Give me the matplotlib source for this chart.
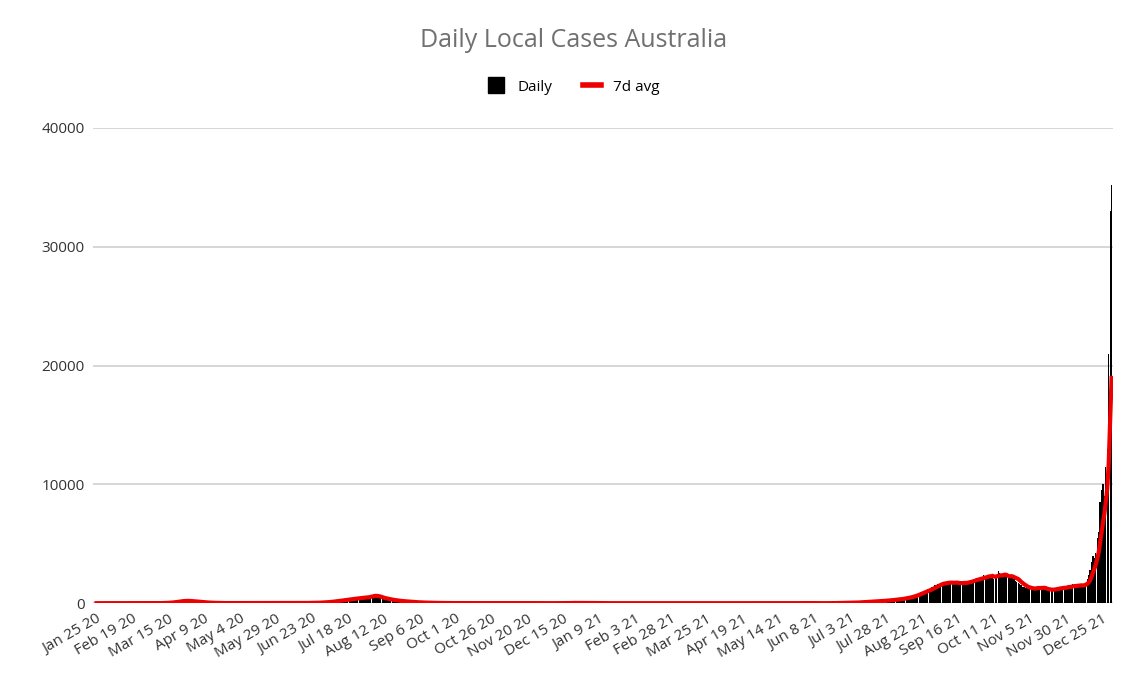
import matplotlib
matplotlib.use("Agg")
import matplotlib.pyplot as plt
import numpy as np
import pandas as pd
from matplotlib.lines import Line2D

start_date = "2020-01-25"
jan20 = [0, 0, 0, 0, 0, 0, 0]
feb20 = [0] * 29
mar20 = [0, 0, 1, 2, 3, 5, 5, 8, 10, 15, 20, 25, 30, 40, 50, 60, 80, 90, 110, 130, 150, 170, 190, 200, 210, 200, 190, 180, 170, 160, 150]
apr20 = [140, 130, 120, 100, 90, 80, 70, 60, 50, 45, 40, 35, 30, 25, 20, 18, 15, 15, 12, 10, 10, 10, 8, 8, 8, 10, 10, 8, 8, 10]
may20 = [10, 12, 15, 10, 8, 12, 15, 10, 8, 10, 12, 15, 12, 10, 8, 10, 8, 6, 10, 12, 10, 8, 6, 10, 12, 8, 10, 12, 10, 8, 10]
jun20 = [8, 10, 8, 6, 8, 10, 12, 10, 8, 10, 12, 15, 12, 10, 15, 18, 20, 18, 22, 25, 25, 30, 28, 35, 40, 45, 45, 50, 60, 70]
jul20 = [70, 80, 100, 110, 120, 130, 150, 170, 180, 200, 210, 230, 250, 270, 280, 300, 320, 340, 350, 370, 380, 390, 410, 420, 430, 440, 450, 460, 470, 480, 500]
aug20 = [600, 550, 650, 700, 680, 600, 520, 480, 450, 430, 400, 380, 350, 320, 300, 280, 260, 240, 220, 200, 190, 180, 170, 160, 150, 140, 130, 120, 110, 100, 90]
sep20 = [80, 75, 70, 65, 60, 55, 50, 45, 40, 38, 35, 33, 30, 28, 25, 22, 20, 18, 15, 14, 13, 12, 11, 10, 10, 9, 8, 8, 7, 7]
oct20 = [8, 6, 5, 7, 8, 6, 5, 4, 6, 8, 7, 5, 4, 6, 5, 4, 3, 5, 6, 4, 3, 2, 4, 5, 3, 2, 3, 4, 2, 3, 2]
nov20 = [3, 2, 2, 3, 4, 2, 1, 2, 3, 2, 1, 2, 1, 2, 3, 5, 8, 10, 8, 6, 5, 4, 3, 2, 2, 1, 1, 2, 1, 1]
dec20 = [1, 1, 2, 1, 1, 0, 1, 0, 1, 0, 1, 1, 0, 1, 1, 2, 10, 20, 25, 30, 20, 15, 10, 12, 10, 8, 10, 12, 15, 20, 18]
jan21 = [15, 12, 10, 8, 10, 8, 6, 5, 4, 3, 2, 2, 1, 1, 1, 0, 0, 1, 0, 0, 0, 0, 0, 0, 0, 0, 0, 0, 0, 0, 1]
feb21 = [1, 2, 1, 0, 0, 1, 2, 3, 2, 1, 2, 3, 4, 3, 2, 1, 1, 0, 0, 0, 0, 0, 0, 0, 0, 0, 0, 0]
mar21 = [0, 0, 0, 0, 0, 0, 0, 0, 0, 0, 0, 0, 0, 0, 0, 0, 0, 0, 0, 0, 0, 0, 0, 0, 0, 0, 0, 2, 5, 8, 4]
apr21 = [3, 2, 1, 0, 0, 0, 0, 0, 0, 0, 0, 0, 0, 0, 0, 0, 0, 0, 0, 0, 0, 0, 0, 1, 0, 0, 0, 0, 0, 0]
may21 = [0, 0, 0, 0, 1, 1, 0, 0, 0, 0, 0, 0, 0, 0, 0, 0, 0, 0, 0, 0, 0, 0, 0, 1, 3, 5, 8, 10, 12, 8, 6]
jun21 = [5, 4, 6, 4, 3, 3, 2, 1, 1, 0, 1, 0, 1, 0, 0, 1, 3, 5, 5, 8, 10, 12, 15, 20, 22, 25, 28, 30, 32, 30]
jul21 = [30, 40, 40, 45, 50, 50, 60, 70, 80, 90, 100, 110, 100, 120, 110, 120, 130, 140, 150, 160, 170, 180, 190, 200, 210, 200, 220, 240, 250, 260, 270]
aug21 = [280, 290, 300, 320, 330, 350, 380, 400, 420, 450, 470, 500, 520, 550, 600, 650, 700, 750, 800, 850, 900, 950, 1000, 1050, 1100, 1150, 1200, 1300, 1350, 1400, 1500]
sep21 = [1550, 1600, 1650, 1700, 1700, 1750, 1650, 1700, 1750, 1800, 1750, 1700, 1650, 1700, 1750, 1700, 1650, 1700, 1650, 1750, 1700, 1800, 1800, 1850, 1900, 1900, 2000, 2050, 2100, 2000]
oct21 = [2100, 2200, 2000, 2400, 2300, 2200, 2400, 2300, 2200, 2300, 2000, 2200, 2400, 2700, 2500, 2300, 2200, 2400, 2300, 2200, 2100, 2300, 2400, 2100, 2000, 1900, 1800, 1700, 1600, 1500, 1400]
nov21 = [1350, 1300, 1250, 1200, 1300, 1250, 1200, 1150, 1300, 1400, 1350, 1250, 1300, 1200, 1250, 1150, 1100, 1050, 1100, 1150, 1200, 1200, 1300, 1250, 1200, 1300, 1350, 1250, 1400, 1300]
dec21 = [1400, 1500, 1350, 1400, 1600, 1450, 1400, 1500, 1600, 1500, 1450, 1500, 1600, 1700, 2000, 2400, 2800, 3500, 4000, 3800, 4200, 5500, 6000, 8500, 9500, 10000, 9000, 11500, 13000, 21000, 33000]
jan22 = [35200]

daily = (jan20 + feb20 + mar20 + apr20 + may20 + jun20 + jul20 + aug20 + sep20 + oct20 + nov20 + dec20
         + jan21 + feb21 + mar21 + apr21 + may21 + jun21 + jul21 + aug21 + sep21 + oct21 + nov21 + dec21 + jan22)
dates = pd.date_range(start_date, periods=len(daily), freq="D")
s = pd.Series(daily, index=dates)
avg7 = s.rolling(7, min_periods=1).mean()

plt.rcParams['font.family'] = ['Open Sans', 'DejaVu Sans']
fig = plt.figure(figsize=(11.47, 6.8), dpi=100)
ax = fig.add_axes([0.081, 0.113, 0.889, 0.699])
x = np.arange(len(daily))
ax.bar(x, s.values, width=0.9, color='black', zorder=2)
ax.plot(x, avg7.values, color='#ee0000', lw=3, zorder=3)
ax.set_xlim(-2.5, len(daily) - 0.3)
ax.set_ylim(0, 40000)
ax.set_yticks([0, 10000, 20000, 30000, 40000])
ax.set_yticklabels(['0', '10000', '20000', '30000', '40000'], fontsize=11, color='#333333')
tick_idx = list(range(0, len(daily), 25))
ax.set_xticks(tick_idx)
ax.set_xticklabels([f"{d.strftime('%b')} {d.day} {d.strftime('%y')}" for d in dates[tick_idx]],
                   rotation=30, ha='right', rotation_mode='anchor', fontsize=11, color='#333333')
ax.tick_params(length=0, pad=6)
ax.grid(axis='y', color='#d0d0d0', lw=1.2, zorder=0)
for sp in ax.spines.values():
    sp.set_visible(False)
ax.axhline(0, color='#888888', lw=0.8, zorder=1)
fig.text(0.5, 0.94, 'Daily Local Cases Australia', ha='center', va='center', fontsize=18, color='#707070')
handles = [Line2D([], [], marker='s', markersize=12, color='black', linestyle='none'),
           Line2D([], [], color='#ee0000', lw=4)]
ax.legend(handles, ['Daily', '7d avg'], loc='center', bbox_to_anchor=(0.5, 0.872), bbox_transform=fig.transFigure,
          ncol=2, frameon=False, fontsize=11, handlelength=1.2, columnspacing=2)
fig.savefig('out.png', dpi=100)
